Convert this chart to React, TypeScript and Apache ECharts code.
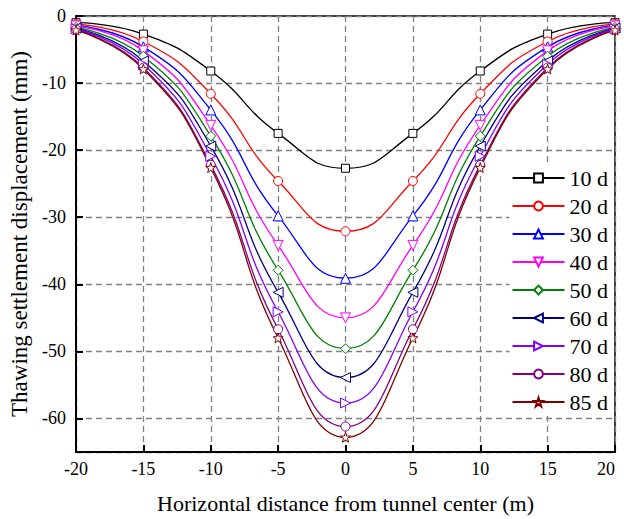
import React, { useEffect, useRef } from "react";
import * as echarts from "echarts";

const xValues = [-20, -15, -10, -5, 0, 5, 10, 15, 20];
const seriesNames = ["10 d", "20 d", "30 d", "40 d", "50 d", "60 d", "70 d", "80 d", "85 d"];
const s10 = [-1.0, -2.7, -8.2, -17.5, -22.7, -17.5, -8.2, -2.7, -1.0];
const s20 = [-1.2, -3.8, -11.6, -24.6, -32.1, -24.6, -11.6, -3.8, -1.2];
const s30 = [-1.4, -4.6, -14.0, -29.8, -39.1, -29.8, -14.0, -4.6, -1.4];
const s40 = [-1.5, -5.2, -16.3, -34.2, -45.0, -34.2, -16.3, -5.2, -1.5];
const s50 = [-1.7, -6.0, -17.9, -37.9, -49.6, -37.9, -17.9, -6.0, -1.7];
const s60 = [-1.8, -6.7, -19.4, -41.2, -53.9, -41.2, -19.4, -6.7, -1.8];
const s70 = [-1.9, -7.2, -20.9, -44.1, -57.7, -44.1, -20.9, -7.2, -1.9];
const s80 = [-2.0, -7.7, -22.2, -46.7, -61.2, -46.7, -22.2, -7.7, -2.0];
const s85 = [-2.1, -7.9, -22.6, -48.0, -62.8, -48.0, -22.6, -7.9, -2.1];
const allValues = [s10, s20, s30, s40, s50, s60, s70, s80, s85];

const colors = ["#000000", "#ff0000", "#0000ff", "#ff00ff", "#008000", "#000080", "#8000ff", "#800080", "#800000"];
const symbols = [
  "rect",
  "circle",
  "path://M5,0 L10,9 L0,9 Z",
  "path://M0,0 L10,0 L5,9 Z",
  "diamond",
  "path://M0,5 L9,0 L9,10 Z",
  "path://M0,0 L9,5 L0,10 Z",
  "circle",
  "path://M5,0 L6.2,3.6 L10,3.6 L7,5.9 L8.1,9.5 L5,7.3 L1.9,9.5 L3,5.9 L0,3.6 L3.8,3.6 Z",
];
const symbolSizes = [8, 9, 10, 10, 10, 10, 10, 9, 10];

const FONT = "Liberation Serif";

export default function App() {
  const ref = useRef<HTMLDivElement>(null);
  useEffect(() => {
    if (!ref.current) return;
    const chart = echarts.init(ref.current, null, { renderer: "svg" });
    const series = seriesNames.map((name, i) => ({
      name,
      type: "line",
      data: xValues.map((x, j) => [x, allValues[i][j]]),
      smooth: 0.5,
      symbol: symbols[i],
      symbolSize: symbolSizes[i],
      showAllSymbol: true,
      lineStyle: { color: colors[i], width: 1.3 },
      itemStyle: { color: "#ffffff", borderColor: colors[i], borderWidth: 1 },
      emphasis: { disabled: true },
    }));
    chart.setOption({
      animation: false,
      backgroundColor: "#ffffff",
      textStyle: { fontFamily: FONT },
      grid: {
        left: 69.5,
        top: 16,
        right: 9,
        bottom: 64,
        show: true,
        borderColor: "#000",
        borderWidth: 1.5,
        backgroundColor: "transparent",
      },
      legend: {
        orient: "vertical",
        right: 12,
        top: 165,
        itemWidth: 52,
        itemHeight: 11,
        itemGap: 6,
        backgroundColor: "#ffffff",
        padding: [2, 4, 2, 2],
        textStyle: { fontFamily: FONT, fontSize: 22, color: "#000" },
        data: seriesNames,
      },
      xAxis: {
        type: "value",
        min: -20,
        max: 20,
        interval: 5,
        name: "Horizontal distance from tunnel center (m)",
        nameLocation: "middle",
        nameGap: 40,
        nameTextStyle: { fontFamily: FONT, fontSize: 22, color: "#000" },
        axisLine: { show: true, onZero: false, lineStyle: { color: "#000", width: 2 } },
        axisTick: { show: true, inside: true, length: 7, lineStyle: { color: "#000", width: 2 } },
        axisLabel: { fontFamily: FONT, fontSize: 18, color: "#000", margin: 8, alignMaxLabel: "right" },
        splitLine: { show: true, lineStyle: { color: "#808080", type: [6, 4], width: 1.3 } },
      },
      yAxis: {
        type: "value",
        min: -65,
        max: 0,
        splitNumber: 6,
        minInterval: 10,
        maxInterval: 10,
        name: "Thawing settlement displacement (mm)",
        nameLocation: "middle",
        nameGap: 45,
        nameRotate: 90,
        nameTextStyle: { fontFamily: FONT, fontSize: 23, color: "#000" },
        axisLine: { show: true, onZero: false, lineStyle: { color: "#000", width: 2 } },
        axisTick: { show: true, inside: true, length: 7, lineStyle: { color: "#000", width: 2 } },
        axisLabel: {
          fontFamily: FONT,
          fontSize: 18,
          color: "#000",
          margin: 10,
          showMinLabel: false,
          formatter: (v: number) => (v % 10 !== 0 ? "" : String(v)),
        },
        splitLine: { show: true, lineStyle: { color: "#808080", type: [6, 4], width: 1.3 } },
      },
      series,
    });
    return () => chart.dispose();
  }, []);
  return (
    <div
      ref={ref}
      style={{ position: "absolute", left: 0, top: 0, width: 624, height: 519 }}
    />
  );
}
